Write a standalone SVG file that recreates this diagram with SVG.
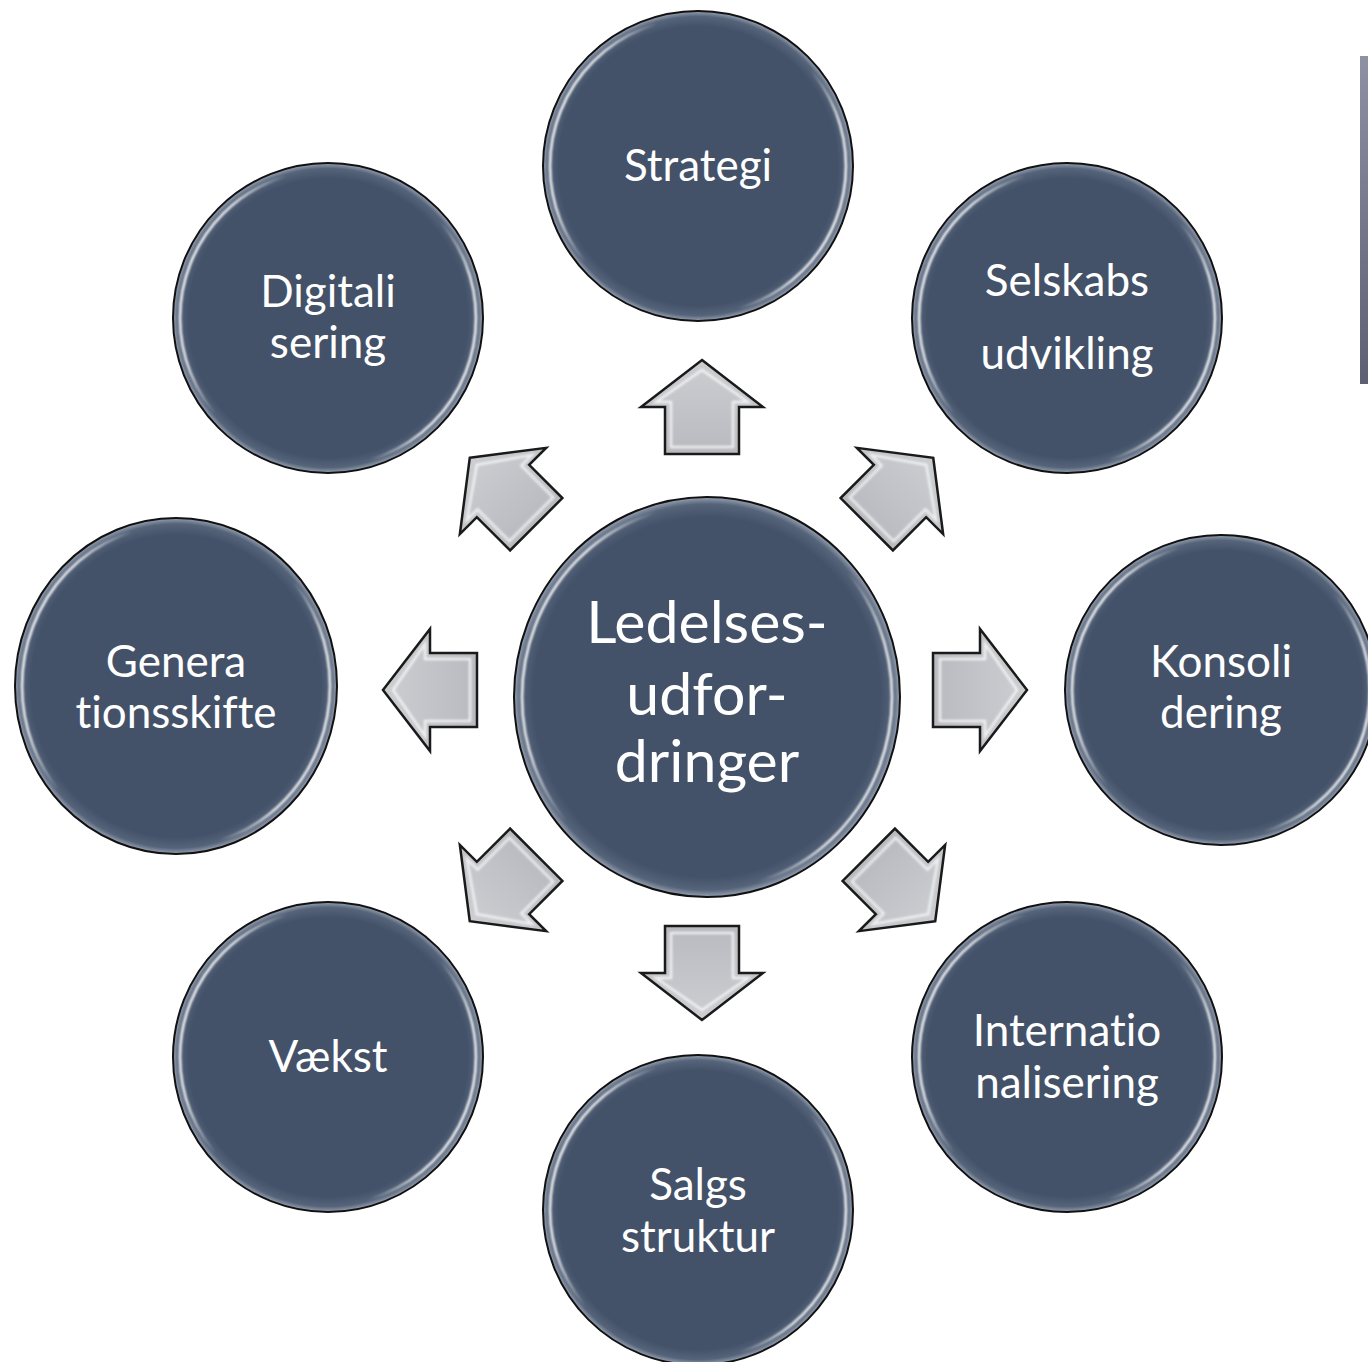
<svg xmlns="http://www.w3.org/2000/svg" width="1368" height="1362" viewBox="0 0 1368 1362">
<defs>
<radialGradient id="disc" cx="0.5" cy="0.5" r="0.5">
<stop offset="0" stop-color="#435269"/>
<stop offset="0.9" stop-color="#435269"/>
<stop offset="0.965" stop-color="#56647a"/>
<stop offset="1" stop-color="#98a2b2"/>
</radialGradient>
<linearGradient id="ring" x1="0" y1="0.35" x2="1" y2="0.65">
<stop offset="0" stop-color="#ffffff" stop-opacity="1"/>
<stop offset="0.1" stop-color="#ffffff" stop-opacity="0.9"/>
<stop offset="0.24" stop-color="#ffffff" stop-opacity="0"/>
<stop offset="0.76" stop-color="#ffffff" stop-opacity="0"/>
<stop offset="0.9" stop-color="#ffffff" stop-opacity="0.9"/>
<stop offset="1" stop-color="#ffffff" stop-opacity="1"/>
</linearGradient>
<linearGradient id="arrowFill" x1="0" y1="0" x2="0" y2="1">
<stop offset="0" stop-color="#cdced2"/>
<stop offset="1" stop-color="#b9babf"/>
</linearGradient>
<linearGradient id="bar" x1="0" y1="0" x2="0" y2="1">
<stop offset="0" stop-color="#8e90a4"/>
<stop offset="1" stop-color="#5c6072"/>
</linearGradient>
<filter id="soft" x="-10%" y="-10%" width="120%" height="120%">
<feGaussianBlur stdDeviation="0.8"/>
</filter>
<path id="arrow" d="M0,-47 L61,0 L37,0 L37,47 L-37,47 L-37,0 L-61,0 Z"/>
<path id="bevel" d="M0,-37 L46,-5 L31,-5 L31,40 L-31,40 L-31,-5 L-46,-5 Z"/>
</defs>
<style>
.disc{fill:url(#disc);stroke:#111;stroke-width:2}
.ring{fill:none;stroke:url(#ring);stroke-width:2.5;filter:url(#soft)}
.lbl{font-family:Lato,"Open Sans","Liberation Sans",sans-serif;fill:#ffffff;text-anchor:middle;font-size:44px;font-variant-ligatures:none}
.big{font-size:59px}
.arr{fill:url(#arrowFill);stroke:#1a1a1a;stroke-width:2.5;stroke-linejoin:miter}
.bev{fill:none;stroke:#ffffff;stroke-width:2.5;stroke-opacity:0.75;filter:url(#soft)}
</style>
<rect width="1368" height="1362" fill="#ffffff"/>
<rect x="1360" y="56" width="8" height="328" fill="url(#bar)"/>

<g id="connectors">
<g transform="translate(702,407)"><use href="#arrow" class="arr"/><use href="#bevel" class="bev"/></g>
<g transform="translate(702,973) rotate(180)"><use href="#arrow" class="arr"/><use href="#bevel" class="bev"/></g>
<g transform="translate(430,690) rotate(-90)"><use href="#arrow" class="arr"/><use href="#bevel" class="bev"/></g>
<g transform="translate(980,690) rotate(90)"><use href="#arrow" class="arr"/><use href="#bevel" class="bev"/></g>
<g transform="translate(503,491) rotate(-45)"><use href="#arrow" class="arr"/><use href="#bevel" class="bev"/></g>
<g transform="translate(900,491) rotate(45)"><use href="#arrow" class="arr"/><use href="#bevel" class="bev"/></g>
<g transform="translate(503,888) rotate(-135)"><use href="#arrow" class="arr"/><use href="#bevel" class="bev"/></g>
<g transform="translate(902,888) rotate(135)"><use href="#arrow" class="arr"/><use href="#bevel" class="bev"/></g>
</g>

<g id="node-center">
<ellipse class="disc" cx="707" cy="697" rx="193" ry="200"/>
<ellipse class="ring" cx="707" cy="697" rx="185" ry="192"/>
<text class="lbl big" x="707" y="643">Ledelses-</text>
<text class="lbl big" x="707" y="715">udfor-</text>
<text class="lbl big" x="707" y="782">dringer</text>
</g>

<g id="node-strategi">
<circle class="disc" cx="698" cy="166" r="155"/>
<circle class="ring" cx="698" cy="166" r="148"/>
<text class="lbl" x="698" y="181">Strategi</text>
</g>

<g id="node-selskabs">
<circle class="disc" cx="1067" cy="318" r="155"/>
<circle class="ring" cx="1067" cy="318" r="148"/>
<text class="lbl" x="1067" y="296">Selskabs</text>
<text class="lbl" x="1067" y="369">udvikling</text>
</g>

<g id="node-digitali">
<circle class="disc" cx="328" cy="318" r="155"/>
<circle class="ring" cx="328" cy="318" r="148"/>
<text class="lbl" x="328" y="307">Digitali</text>
<text class="lbl" x="328" y="358">sering</text>
</g>

<g id="node-genera">
<ellipse class="disc" cx="176" cy="686" rx="161" ry="168"/>
<ellipse class="ring" cx="176" cy="686" rx="154" ry="161"/>
<text class="lbl" x="176" y="677">Genera</text>
<text class="lbl" x="176" y="728">tionsskifte</text>
</g>

<g id="node-konsoli">
<ellipse class="disc" cx="1221" cy="690" rx="156" ry="155"/>
<ellipse class="ring" cx="1221" cy="690" rx="149" ry="148"/>
<text class="lbl" x="1221" y="677">Konsoli</text>
<text class="lbl" x="1221" y="728">dering</text>
</g>

<g id="node-vaekst">
<circle class="disc" cx="328" cy="1057" r="155"/>
<circle class="ring" cx="328" cy="1057" r="148"/>
<text class="lbl" x="328" y="1072">Vækst</text>
</g>

<g id="node-internatio">
<circle class="disc" cx="1067" cy="1057" r="155"/>
<circle class="ring" cx="1067" cy="1057" r="148"/>
<text class="lbl" x="1067" y="1046">Internatio</text>
<text class="lbl" x="1067" y="1098">nalisering</text>
</g>

<g id="node-salgs">
<circle class="disc" cx="698" cy="1210" r="155"/>
<circle class="ring" cx="698" cy="1210" r="148"/>
<text class="lbl" x="698" y="1200">Salgs</text>
<text class="lbl" x="698" y="1252">struktur</text>
</g>
</svg>
